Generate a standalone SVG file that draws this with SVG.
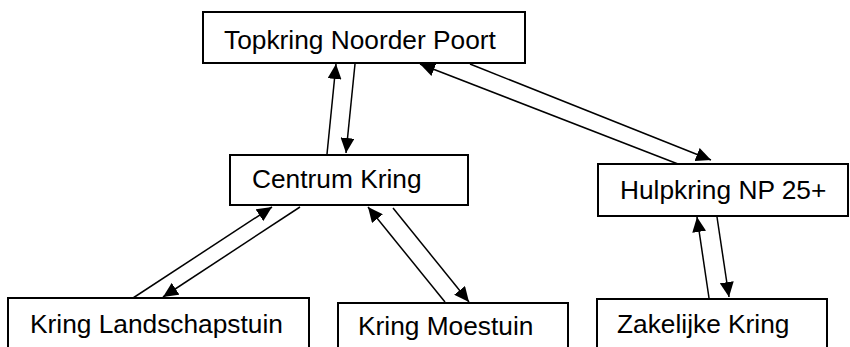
<svg xmlns="http://www.w3.org/2000/svg" width="850" height="347" viewBox="0 0 850 347">
<style>
.box{fill:#fff;stroke:#000;stroke-width:2}
.lbl{font-family:"Liberation Sans",Arial,sans-serif;font-size:26.3px;fill:#000}
.con{stroke:#000;stroke-width:1.5;fill:none;marker-end:url(#ah)}
</style>
<defs>
<marker id="ah" markerUnits="userSpaceOnUse" markerWidth="16" markerHeight="14" refX="15" refY="7" orient="auto">
<path d="M0,0 L15,7 L0,14 Z" fill="#000"/>
</marker>
</defs>
<rect width="850" height="347" fill="#fff"/>
<g id="connectors">
<line class="con" x1="327" y1="154" x2="336" y2="64"/>
<line class="con" x1="355" y1="64" x2="346" y2="153"/>
<line class="con" x1="678" y1="164" x2="420" y2="64"/>
<line class="con" x1="470" y1="64" x2="711" y2="160"/>
<line class="con" x1="133" y1="298" x2="272" y2="207"/>
<line class="con" x1="300" y1="207" x2="163" y2="297"/>
<line class="con" x1="445" y1="302" x2="368" y2="207"/>
<line class="con" x1="393" y1="208" x2="469" y2="302"/>
<line class="con" x1="709" y1="298" x2="697" y2="217"/>
<line class="con" x1="717" y1="217" x2="729" y2="297"/>
</g>
<g id="topkring">
<rect class="box" x="203" y="12" width="322" height="51"/>
<text class="lbl" x="224" y="49">Topkring Noorder Poort</text>
</g>
<g id="centrum">
<rect class="box" x="230" y="155" width="238" height="50"/>
<text class="lbl" x="252" y="188">Centrum Kring</text>
</g>
<g id="hulpkring">
<rect class="box" x="598" y="164" width="250" height="52"/>
<text class="lbl" x="620" y="199">Hulpkring NP 25+</text>
</g>
<g id="landschapstuin">
<rect class="box" x="8" y="298" width="301" height="60"/>
<text class="lbl" x="30" y="333">Kring Landschapstuin</text>
</g>
<g id="moestuin">
<rect class="box" x="338" y="303" width="230" height="60"/>
<text class="lbl" x="358" y="335">Kring Moestuin</text>
</g>
<g id="zakelijke">
<rect class="box" x="597" y="299" width="230" height="60"/>
<text class="lbl" x="617" y="333">Zakelijke Kring</text>
</g>
</svg>
